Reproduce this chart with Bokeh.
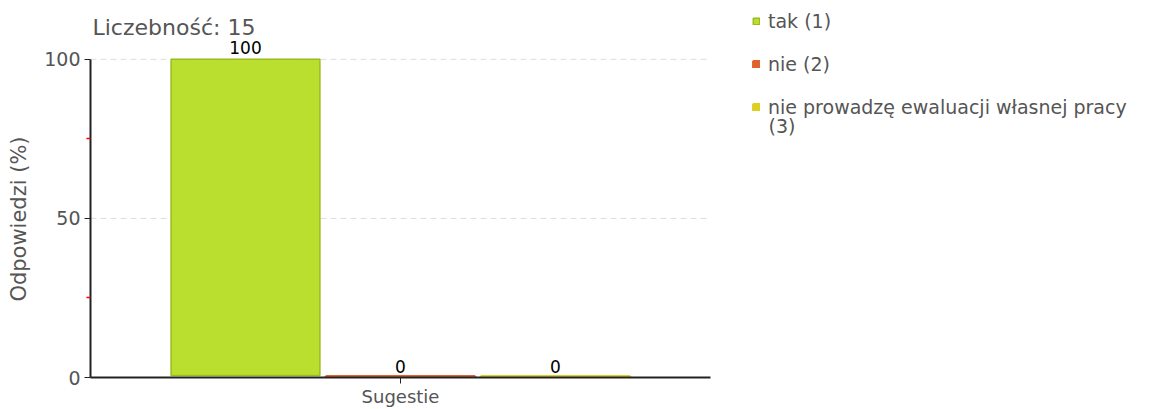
from bokeh.plotting import figure
from bokeh.models import (Range1d, FixedTicker, Legend, LegendItem, LabelSet,
                          ColumnDataSource, Label)
from bokeh.core.properties import value
from bokeh.embed import file_html
from bokeh.resources import INLINE

category = "Sugestie"
series_names = ["tak (1)", "nie (2)", "nie prowadzę ewaluacji własnej pracy\n(3)"]
series_values = [100, 0, 0]
series_colors = ["#BADF2F", "#E2622D", "#DCD020"]
series_borders = ["#9BBB1E", "#E2622D", "#DCD020"]
y_ticks = [0, 50, 100]
y_minor = [25, 75]
grid_ticks = [50, 100]
count_label = "Liczebność: 15"
y_label = "Odpowiedzi (%)"

FONT = "DejaVu Sans"
GRAY = "#555555"

p = figure(width=1173, height=409, output_backend="svg", toolbar_location=None,
           title=None,
           x_range=Range1d(0, 1083 / 155), y_range=Range1d(0, 378 / 319 * 100),
           min_border_left=90, min_border_right=0, min_border_top=0,
           min_border_bottom=31)
p.outline_line_color = None
p.background_fill_color = "white"

# dashed grid lines across the category area only
p.segment(x0=[0] * len(grid_ticks), x1=[4] * len(grid_ticks), y0=grid_ticks,
          y1=grid_ticks, line_color="#DDDDDD", line_width=1, line_dash="6 4")

positions = [i + 1 for i in range(len(series_values))]
items = []
wrapped = []
for i, (name, val, col, bcol) in enumerate(zip(series_names, series_values,
                                               series_colors, series_borders)):
    src = ColumnDataSource(dict(x=[positions[i]], top=[val],
                                bottom=[0.6 if val > 0 else 0.4]))
    r = p.vbar(x="x", top="top", bottom="bottom", width=0.96, source=src,
               fill_color=col, line_color=bcol, line_width=1.5 if val > 0 else 2.5)
    lines = name.split("\n")
    items.append(LegendItem(label=lines[0], renderers=[r]))
    wrapped.append((i, lines[1:]))

lab_src = ColumnDataSource(dict(x=positions, y=series_values,
                                t=[str(v) for v in series_values]))
p.add_layout(LabelSet(x="x", y="y", text="t", source=lab_src, y_offset=5,
                      text_align="center", text_baseline="bottom",
                      text_font=value(FONT), text_font_size="17px",
                      text_color="black"))

p.add_layout(Label(x=2, y=378 - 28, x_units="screen", y_units="screen",
                   text=count_label, text_font=FONT, text_font_size="22px",
                   text_color=GRAY, text_baseline="middle", text_align="left"))

# axes
p.yaxis.bounds = (0, 100)
p.yaxis.ticker = FixedTicker(ticks=y_ticks, minor_ticks=y_minor)
# trailing no-break spaces centre the label on the 0-100 axis span
p.yaxis.axis_label = y_label + "\u00a0" * 9
p.yaxis.axis_label_text_font = FONT
p.yaxis.axis_label_text_font_size = "21px"
p.yaxis.axis_label_text_font_style = "normal"
p.yaxis.axis_label_text_color = GRAY
p.yaxis.axis_label_standoff = 10
p.yaxis.major_label_text_font = FONT
p.yaxis.major_label_text_font_size = "19px"
p.yaxis.major_label_text_color = GRAY
p.yaxis.major_label_standoff = 4
p.yaxis.axis_line_color = "#222222"
p.yaxis.axis_line_width = 2
p.yaxis.major_tick_line_color = "#222222"
p.yaxis.major_tick_out = 6
p.yaxis.major_tick_in = 0
p.yaxis.minor_tick_line_color = "red"
p.yaxis.minor_tick_line_width = 1.5
p.yaxis.minor_tick_out = 4
p.yaxis.minor_tick_in = 0

p.xaxis.bounds = (0, 4)
p.xaxis.ticker = FixedTicker(ticks=[2])
p.xaxis.major_label_overrides = {2: category}
p.xaxis.major_label_text_font = FONT
p.xaxis.major_label_text_font_size = "18px"
p.xaxis.major_label_text_color = GRAY
p.xaxis.major_label_standoff = 2
p.xaxis.axis_line_color = "#222222"
p.xaxis.axis_line_width = 2
p.xaxis.major_tick_line_color = "#222222"
p.xaxis.major_tick_out = 6
p.xaxis.major_tick_in = 0
p.xaxis.minor_tick_line_color = None

p.xgrid.grid_line_color = None
p.ygrid.grid_line_color = None

LEG_BOTTOM = 259
legend = Legend(items=items, location=(662, LEG_BOTTOM), orientation="vertical",
                label_text_font=FONT, label_text_font_size="19px",
                label_text_color=GRAY, glyph_width=8, glyph_height=8,
                label_height=16, label_standoff=8, spacing=21, padding=0,
                margin=0, border_line_color=None, background_fill_alpha=0)
p.add_layout(legend, "center")

# continuation lines of wrapped legend labels
for i, rest in wrapped:
    for k, line in enumerate(rest):
        p.add_layout(Label(x=678, y=378 - (108 + 18 * (k + 1)), x_units="screen",
                           y_units="screen", text=line, text_font=FONT,
                           text_font_size="19px", text_color=GRAY,
                           text_baseline="middle", text_align="left"))

open("out.html", "w").write(file_html(p, INLINE))
